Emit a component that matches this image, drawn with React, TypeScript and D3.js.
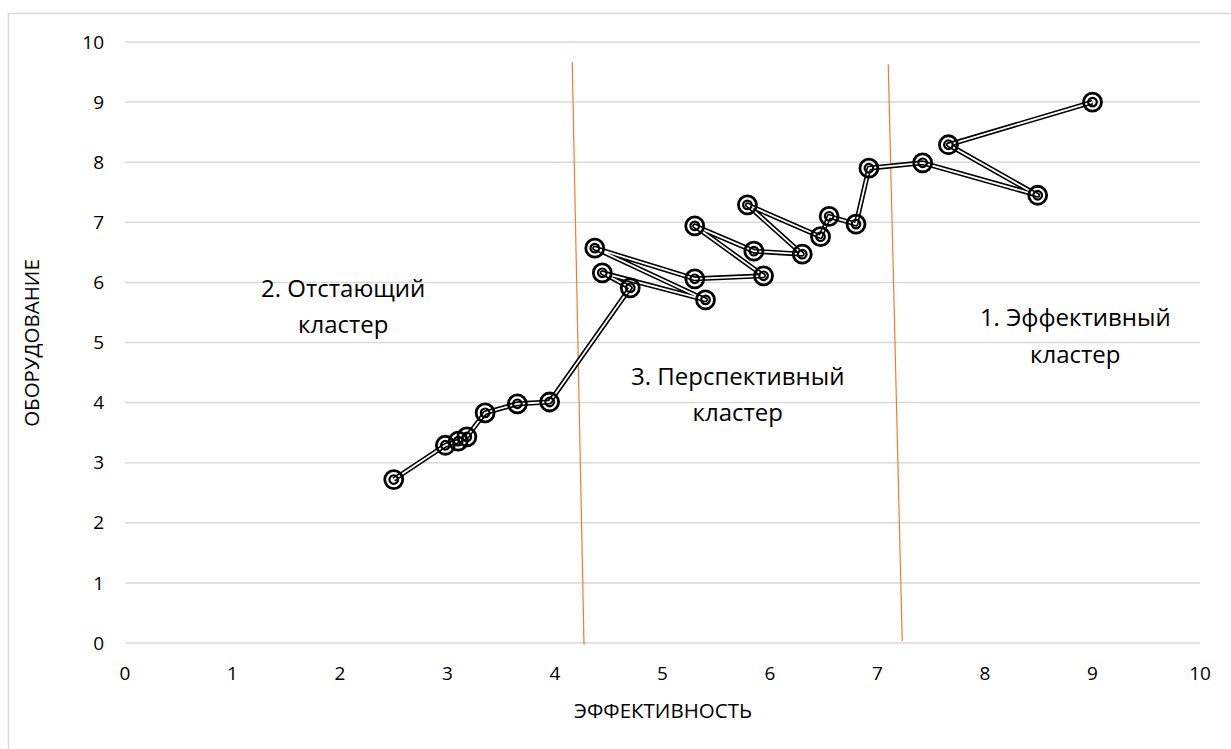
import { useEffect, useRef } from 'react';
import * as d3 from 'd3';

// path order as drawn in the reference
const efficiency = [2.5, 2.98, 3.1, 3.18, 3.35, 3.65, 3.95, 4.7, 4.44, 5.4, 4.37, 5.3, 5.94, 5.3, 5.85, 6.3, 5.79, 6.47, 6.55, 6.8, 6.92, 7.42, 8.49, 7.66, 9.0];
const equipment = [2.72, 3.29, 3.36, 3.43, 3.83, 3.98, 4.01, 5.91, 6.16, 5.71, 6.57, 6.06, 6.11, 6.94, 6.52, 6.47, 7.29, 6.76, 7.1, 6.97, 7.9, 7.99, 7.45, 8.29, 9.0];

const xTicks = [0, 1, 2, 3, 4, 5, 6, 7, 8, 9, 10];
const yTicks = [0, 1, 2, 3, 4, 5, 6, 7, 8, 9, 10];

// cluster borders
const dividerStart = [[4.16, 9.67], [7.1, 9.63]];
const dividerEnd = [[4.27, -0.03], [7.23, 0.03]];

const clusterLabels = [
  { lines: ['2. Отстающий', 'кластер'], x: 2.03, y: 5.76 },
  { lines: ['3. Перспективный', 'кластер'], x: 5.7, y: 4.3 },
  { lines: ['1. Эффективный', 'кластер'], x: 8.84, y: 5.27 },
];

const FONT = "'Open Sans', 'Noto Sans', sans-serif";

export default function App() {
  const svgRef = useRef<SVGSVGElement>(null);

  useEffect(() => {
    const width = 1231;
    const height = 749;

    const x = d3.scaleLinear().domain([0, 10]).range([125, 1200]);
    const y = d3.scaleLinear().domain([0, 10]).range([643, 42]);

    const svg = d3.select(svgRef.current);
    svg.selectAll('*').remove();

    svg.append('rect').attr('width', width).attr('height', height).attr('fill', '#fff');

    // chart border
    svg
      .append('rect')
      .attr('x', 8.5)
      .attr('y', 13.5)
      .attr('width', 1260)
      .attr('height', 780)
      .attr('fill', 'none')
      .attr('stroke', '#d9d9d9')
      .attr('stroke-width', 1.5);

    // Grid
    svg
      .append('g')
      .selectAll('line')
      .data(yTicks)
      .enter()
      .append('line')
      .attr('x1', x(0))
      .attr('x2', x(10))
      .attr('y1', d => y(d))
      .attr('y2', d => y(d))
      .attr('stroke', '#d9d9d9')
      .attr('stroke-width', 1.5);

    // Tick labels
    svg
      .append('g')
      .selectAll('text')
      .data(yTicks)
      .enter()
      .append('text')
      .attr('x', 104)
      .attr('y', d => y(d))
      .attr('dy', '0.35em')
      .attr('text-anchor', 'end')
      .attr('font-family', FONT)
      .attr('font-size', 19)
      .attr('fill', '#000')
      .text(d => d);

    svg
      .append('g')
      .selectAll('text')
      .data(xTicks)
      .enter()
      .append('text')
      .attr('x', d => x(d))
      .attr('y', 680)
      .attr('text-anchor', 'middle')
      .attr('font-family', FONT)
      .attr('font-size', 19)
      .attr('fill', '#000')
      .text(d => d);

    // Axis titles
    svg
      .append('text')
      .attr('x', 663)
      .attr('y', 718)
      .attr('text-anchor', 'middle')
      .attr('font-family', FONT)
      .attr('font-size', 20.5)
      .text('ЭФФЕКТИВНОСТЬ');

    svg
      .append('text')
      .attr('transform', 'translate(39,343) rotate(-90)')
      .attr('text-anchor', 'middle')
      .attr('font-family', FONT)
      .attr('font-size', 20.5)
      .text('ОБОРУДОВАНИЕ');

    // Dividers
    svg
      .append('g')
      .selectAll('line')
      .data(dividerStart)
      .enter()
      .append('line')
      .attr('x1', d => x(d[0]))
      .attr('y1', d => y(d[1]))
      .attr('x2', (_, i) => x(dividerEnd[i][0]))
      .attr('y2', (_, i) => y(dividerEnd[i][1]))
      .attr('stroke', '#ED7D31')
      .attr('stroke-width', 1.2);

    // Cluster labels
    const lbl = svg
      .append('g')
      .selectAll('text')
      .data(clusterLabels)
      .enter()
      .append('text')
      .attr('text-anchor', 'middle')
      .attr('font-family', FONT)
      .attr('font-size', 24)
      .attr('fill', '#000');
    lbl
      .selectAll('tspan')
      .data(d => d.lines.map((t, i) => ({ t, i, d })))
      .enter()
      .append('tspan')
      .attr('x', d => x(d.d.x))
      .attr('y', d => y(d.d.y) + d.i * 36.5)
      .text(d => d.t);

    // Series: double line
    const pts = efficiency.map((v, i) => [x(v), y(equipment[i])] as [number, number]);
    const line = d3.line();
    svg
      .append('path')
      .attr('d', line(pts)!)
      .attr('fill', 'none')
      .attr('stroke', '#000')
      .attr('stroke-width', 5)
      .attr('stroke-linejoin', 'round');
    svg
      .append('path')
      .attr('d', line(pts)!)
      .attr('fill', 'none')
      .attr('stroke', '#fff')
      .attr('stroke-width', 1.8)
      .attr('stroke-linejoin', 'round');

    // Markers
    const m = svg
      .append('g')
      .selectAll('g')
      .data(pts)
      .enter()
      .append('g')
      .attr('transform', d => `translate(${d[0]},${d[1]})`);
    m.append('circle')
      .attr('r', 9)
      .attr('fill', 'none')
      .attr('stroke', '#000')
      .attr('stroke-width', 2.8);
    m.append('circle')
      .attr('r', 4.3)
      .attr('fill', 'none')
      .attr('stroke', '#000')
      .attr('stroke-width', 2.2);
  }, []);

  return (
    <svg
      ref={svgRef}
      width={1231}
      height={749}
      style={{ position: 'absolute', left: 0, top: 0 }}
    ></svg>
  );
}
